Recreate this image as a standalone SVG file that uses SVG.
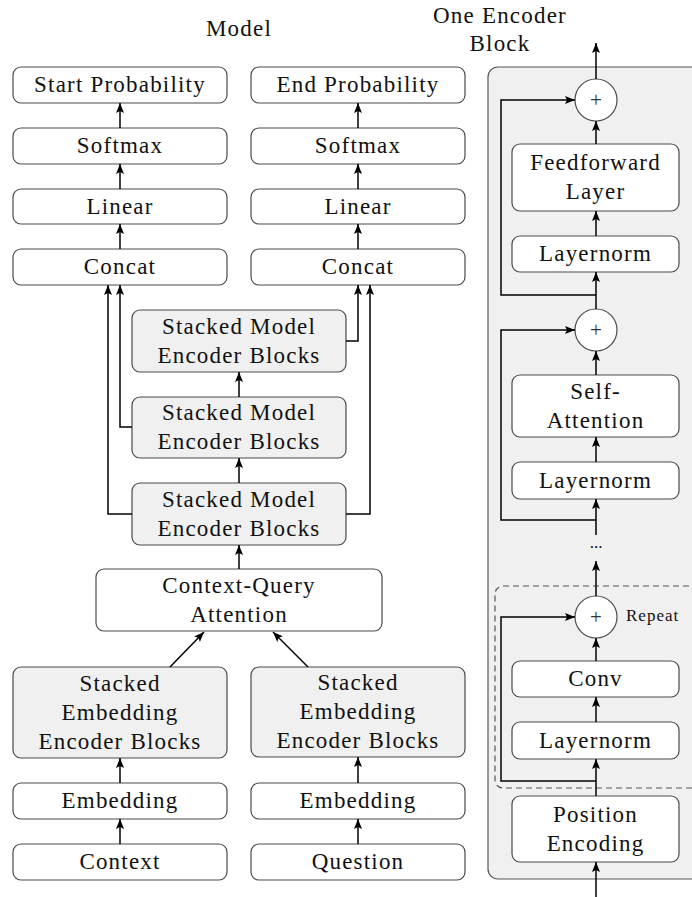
<svg xmlns="http://www.w3.org/2000/svg" width="692" height="897" viewBox="0 0 692 897" font-family="'Liberation Serif', 'DejaVu Serif', serif">
<style>
.b{fill:#fff;stroke:#4a4a4a;stroke-width:1.2}
.g{fill:#f0f0f0;stroke:#4a4a4a;stroke-width:1.2}
.lbl{font-size:23px;letter-spacing:1.2px;fill:#111;text-anchor:middle}
.sm{font-size:17px;letter-spacing:1px;fill:#111}
.c{fill:none;stroke:#000;stroke-width:1.5}
.a{marker-end:url(#ah)}
</style>
<defs>
<marker id="ah" markerUnits="userSpaceOnUse" markerWidth="10" markerHeight="10" viewBox="0 0 10 10" refX="10" refY="5" orient="auto">
<path d="M0,1 L10,5 L0,9 L2,5 Z" fill="#000"/>
</marker>
</defs>

<text class="lbl" x="239" y="36">Model</text>
<text class="lbl" x="500" y="23">One Encoder</text>
<text class="lbl" x="500" y="51">Block</text>

<g id="panel"><rect x="488" y="67" width="230" height="812" rx="10" fill="#f0f0f0" stroke="#555" stroke-width="1.2"/></g>
<g id="repeat-box"><rect x="495" y="586" width="230" height="202" rx="8" fill="none" stroke="#555" stroke-width="1.2" stroke-dasharray="6,4"/><text class="sm" x="626" y="621">Repeat</text></g>

<g id="start-prob"><rect class="b" x="13" y="67" width="214" height="36" rx="8"/><text class="lbl" x="120" y="92">Start Probability</text></g>
<g id="softmax-l"><rect class="b" x="13" y="128" width="214" height="36" rx="8"/><text class="lbl" x="120" y="153">Softmax</text></g>
<g id="linear-l"><rect class="b" x="13" y="189" width="214" height="35" rx="8"/><text class="lbl" x="120" y="214">Linear</text></g>
<g id="concat-l"><rect class="b" x="13" y="249" width="214" height="36" rx="8"/><text class="lbl" x="120" y="274">Concat</text></g>

<g id="end-prob"><rect class="b" x="251" y="67" width="214" height="36" rx="8"/><text class="lbl" x="358" y="92">End Probability</text></g>
<g id="softmax-r"><rect class="b" x="251" y="128" width="214" height="36" rx="8"/><text class="lbl" x="358" y="153">Softmax</text></g>
<g id="linear-r"><rect class="b" x="251" y="189" width="214" height="35" rx="8"/><text class="lbl" x="358" y="214">Linear</text></g>
<g id="concat-r"><rect class="b" x="251" y="249" width="214" height="36" rx="8"/><text class="lbl" x="358" y="274">Concat</text></g>

<g id="model-enc-3"><rect class="g" x="132" y="310" width="214" height="62" rx="8"/><text class="lbl" x="239" y="333.5">Stacked Model</text><text class="lbl" x="239" y="362.5">Encoder Blocks</text></g>
<g id="model-enc-2"><rect class="g" x="132" y="397" width="214" height="61" rx="8"/><text class="lbl" x="239" y="420">Stacked Model</text><text class="lbl" x="239" y="449">Encoder Blocks</text></g>
<g id="model-enc-1"><rect class="g" x="132" y="483" width="214" height="62" rx="8"/><text class="lbl" x="239" y="506.5">Stacked Model</text><text class="lbl" x="239" y="535.5">Encoder Blocks</text></g>

<g id="cq-attn"><rect class="b" x="96" y="569" width="286" height="62" rx="8"/><text class="lbl" x="239" y="592.5">Context-Query</text><text class="lbl" x="239" y="621.5">Attention</text></g>

<g id="emb-enc-l"><rect class="g" x="13" y="667" width="214" height="91" rx="8"/><text class="lbl" x="120" y="690.5">Stacked</text><text class="lbl" x="120" y="719.5">Embedding</text><text class="lbl" x="120" y="748.5">Encoder Blocks</text></g>
<g id="emb-enc-r"><rect class="g" x="251" y="667" width="214" height="90" rx="8"/><text class="lbl" x="358" y="690">Stacked</text><text class="lbl" x="358" y="719">Embedding</text><text class="lbl" x="358" y="748">Encoder Blocks</text></g>

<g id="embedding-l"><rect class="b" x="13" y="783" width="214" height="36" rx="8"/><text class="lbl" x="120" y="808">Embedding</text></g>
<g id="embedding-r"><rect class="b" x="251" y="783" width="214" height="36" rx="8"/><text class="lbl" x="358" y="808">Embedding</text></g>
<g id="context"><rect class="b" x="13" y="844" width="214" height="36" rx="8"/><text class="lbl" x="120" y="869">Context</text></g>
<g id="question"><rect class="b" x="251" y="844" width="214" height="36" rx="8"/><text class="lbl" x="358" y="869">Question</text></g>

<g id="add-1"><circle class="b" cx="596" cy="100" r="21"/><text class="lbl" x="596" y="107" style="font-size:21px;fill:#333;letter-spacing:0">+</text></g>
<g id="ffn"><rect class="b" x="512" y="144" width="167" height="67" rx="8"/><text class="lbl" x="595.5" y="170">Feedforward</text><text class="lbl" x="595.5" y="199">Layer</text></g>
<g id="ln-1"><rect class="b" x="512" y="236" width="167" height="36" rx="8"/><text class="lbl" x="595.5" y="261">Layernorm</text></g>
<g id="add-2"><circle class="b" cx="596" cy="330" r="21"/><text class="lbl" x="596" y="337" style="font-size:21px;fill:#333;letter-spacing:0">+</text></g>
<g id="self-attn"><rect class="b" x="512" y="375" width="167" height="62" rx="8"/><text class="lbl" x="595.5" y="398.5">Self-</text><text class="lbl" x="595.5" y="427.5">Attention</text></g>
<g id="ln-2"><rect class="b" x="512" y="462" width="167" height="37" rx="8"/><text class="lbl" x="595.5" y="487.5">Layernorm</text></g>
<g id="dots"><text class="sm" x="596" y="548" text-anchor="middle" style="letter-spacing:0">...</text></g>
<g id="add-3"><circle class="b" cx="596" cy="617" r="21"/><text class="lbl" x="596" y="624" style="font-size:21px;fill:#333;letter-spacing:0">+</text></g>
<g id="conv"><rect class="b" x="512" y="661" width="167" height="36" rx="8"/><text class="lbl" x="595.5" y="686">Conv</text></g>
<g id="ln-3"><rect class="b" x="512" y="722" width="167" height="37" rx="8"/><text class="lbl" x="595.5" y="747.5">Layernorm</text></g>
<g id="pos-enc"><rect class="b" x="512" y="796" width="167" height="66" rx="8"/><text class="lbl" x="595.5" y="821.5">Position</text><text class="lbl" x="595.5" y="850.5">Encoding</text></g>

<g id="connectors">
<path class="c a" d="M120,128 V103"/>
<path class="c a" d="M120,189 V164"/>
<path class="c a" d="M120,249 V224"/>
<path class="c a" d="M358,128 V103"/>
<path class="c a" d="M358,189 V164"/>
<path class="c a" d="M358,249 V224"/>
<path class="c a" d="M132,514 H108 V285"/>
<path class="c a" d="M132,427 H120 V285"/>
<path class="c a" d="M346,341 H358 V285"/>
<path class="c a" d="M346,514 H370 V285"/>
<path class="c a" d="M239,397 V372"/>
<path class="c a" d="M239,483 V458"/>
<path class="c a" d="M239,569 V545"/>
<path class="c a" d="M170,667 L204,632"/>
<path class="c a" d="M308,667 L273,632"/>
<path class="c a" d="M120,783 V758"/>
<path class="c a" d="M120,844 V819"/>
<path class="c a" d="M358,783 V757"/>
<path class="c a" d="M358,844 V819"/>

<path class="c a" d="M596,79 V43"/>
<path class="c a" d="M596,144 V121"/>
<path class="c a" d="M596,236 V211"/>
<path class="c a" d="M596,309 V272"/>
<path class="c a" d="M596,295 H501 V100 H575"/>
<path class="c a" d="M596,375 V351"/>
<path class="c a" d="M596,462 V437"/>
<path class="c a" d="M596,535 V499"/>
<path class="c a" d="M596,520 H501 V330 H575"/>
<path class="c a" d="M596,596 V561"/>
<path class="c a" d="M596,661 V638"/>
<path class="c a" d="M596,722 V697"/>
<path class="c a" d="M596,796 V759"/>
<path class="c a" d="M596,781 H501 V617 H575"/>
<path class="c a" d="M596,897 V862"/>
</g>
</svg>
